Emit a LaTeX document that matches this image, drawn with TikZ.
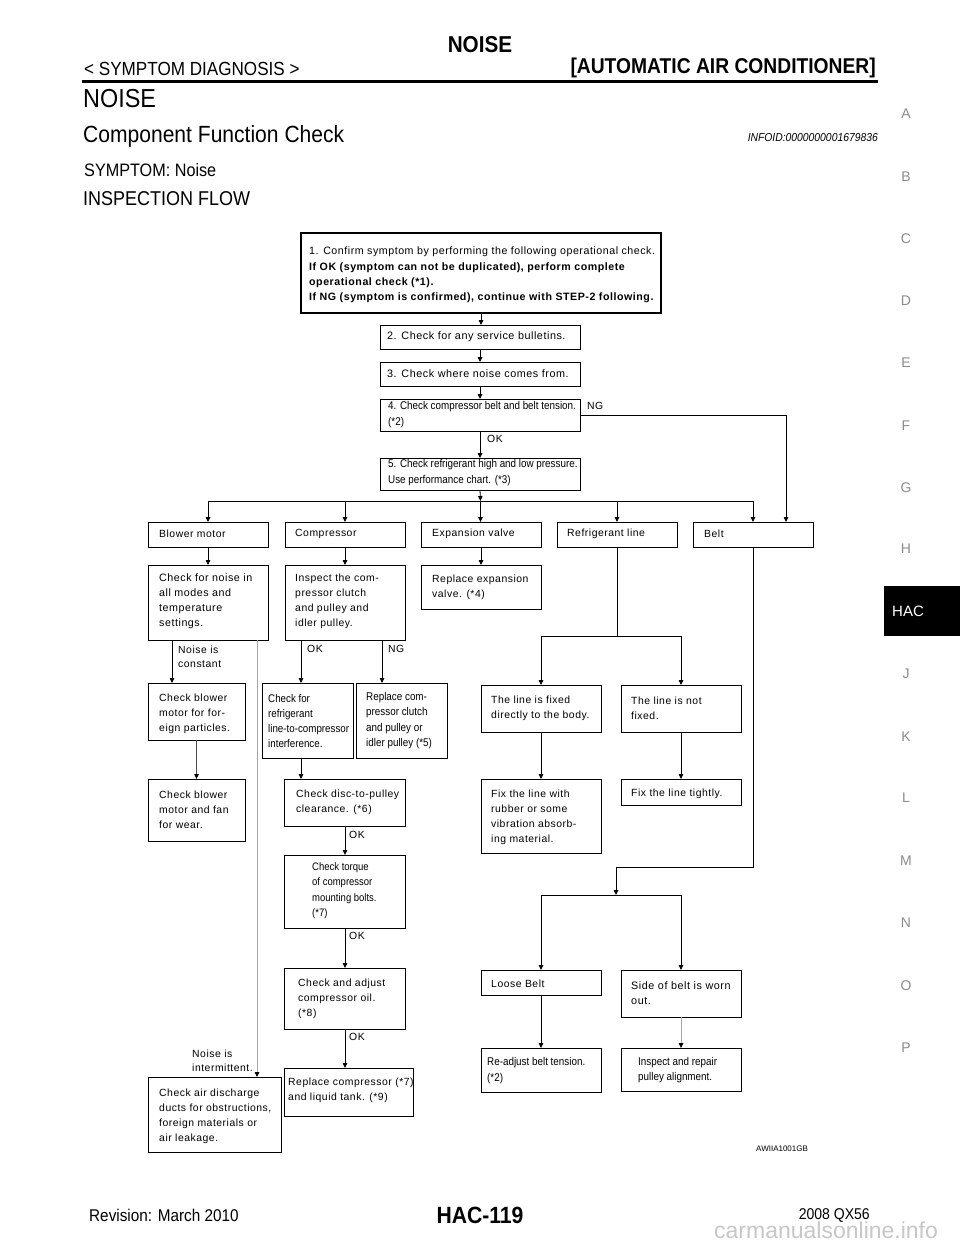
\documentclass[tikz,border=0pt]{standalone}
\usepackage{fontspec}
\setmainfont{Liberation Sans}
\newfontfamily\tfont{Liberation Sans}[LetterSpace=5]
\newfontfamily\nfont{Liberation Sans}[FakeStretch=0.88]
\newfontfamily\hfont{Liberation Sans}[FakeStretch=0.9]
\usetikzlibrary{arrows.meta}
\begin{document}
\begin{tikzpicture}[x=1pt,y=-1pt,
  bx/.style={draw=black, line width=0.9pt, rectangle, inner sep=0pt, outer sep=0pt, anchor=north west},
  tx/.style={anchor=west, align=left, inner sep=0pt, font=\tfont\fontsize{10.4}{15}\selectfont},
  nx/.style={anchor=west, align=left, inner sep=0pt, font=\nfont\fontsize{11.2}{15.5}\selectfont},
  lbl/.style={anchor=west, align=left, inner sep=0pt, font=\tfont\fontsize{10.4}{14.5}\selectfont},
  ar/.style={line width=0.8pt, -{Triangle[length=5pt,width=4.5pt,color=black]}},
  lnk/.style={line width=0.8pt},
  gl/.style={draw=black!35},
  side/.style={inner sep=0pt, text=black!45, font=\fontsize{14}{14}\selectfont},
  hd/.style={inner sep=0pt},
]
\fill[white] (0,0) rectangle (960,1242);
\useasboundingbox (0,0) rectangle (960,1242);

% ---------- header ----------
\node[hd, anchor=base, font=\hfont\bfseries\fontsize{23}{23}\selectfont] (htitle) at (480,52) {NOISE};
\node[hd, anchor=base west, font=\hfont\fontsize{19}{19}\selectfont] (hsym) at (84,75) {< SYMPTOM DIAGNOSIS >};
\node[hd, anchor=base east, font=\hfont\bfseries\fontsize{21.4}{21.4}\selectfont] (hauto) at (876,73) {[AUTOMATIC AIR CONDITIONER]};
\draw[line width=2.5pt] (82,81.5) -- (878,81.5);
\node[hd, anchor=base west, font=\hfont\fontsize{26}{26}\selectfont] (hnoise) at (83,107) {NOISE};
\node[hd, anchor=base west, font=\hfont\fontsize{23.4}{23.4}\selectfont] (hcfc) at (83,142) {Component Function Check};
\node[hd, anchor=base east, font=\hfont\itshape\fontsize{11.5}{11.5}\selectfont] (hinfo) at (878,141) {INFOID:0000000001679836};
\node[hd, anchor=base west, font=\hfont\fontsize{18}{18}\selectfont] (hsn) at (84,176) {SYMPTOM: Noise};
\node[hd, anchor=base west, font=\hfont\fontsize{20}{20}\selectfont] (hif) at (83,205) {INSPECTION FLOW};

% ---------- side index ----------
\node[side] (sA) at (906,114) {A};
\node[side] (sB) at (906,177) {B};
\node[side] (sC) at (906,239) {C};
\node[side] (sD) at (906,301) {D};
\node[side] (sE) at (906,363) {E};
\node[side] (sF) at (906,426) {F};
\node[side] (sG) at (906,488) {G};
\node[side] (sH) at (906,549) {H};
\node[fill=black, inner sep=0pt, minimum width=76pt, minimum height=50pt, anchor=north west] (hac) at (884,586) {};
\node[inner sep=0pt, text=white, font=\fontsize{15}{15}\selectfont] (hact) at (908,611) {HAC};
\node[side] (sJ) at (906,674) {J};
\node[side] (sK) at (906,737) {K};
\node[side] (sL) at (906,798) {L};
\node[side] (sM) at (906,861) {M};
\node[side] (sN) at (906,923) {N};
\node[side] (sO) at (906,986) {O};
\node[side] (sP) at (906,1048) {P};

% ---------- boxes ----------
\node[bx, line width=1.1pt, minimum width=360pt, minimum height=80pt] (b1) at (301,233) {};
\node[bx, minimum width=200pt, minimum height=24pt] (b2) at (380,325) {};
\node[bx, minimum width=200pt, minimum height=24pt] (b3) at (380,362) {};
\node[bx, minimum width=200pt, minimum height=32pt] (b4) at (380,399) {};
\node[bx, minimum width=200pt, minimum height=32pt] (b5) at (380,458) {};
\node[bx, minimum width=120pt, minimum height=25pt] (bl) at (148,522) {};
\node[bx, minimum width=120pt, minimum height=25pt] (cp) at (285,522) {};
\node[bx, minimum width=120pt, minimum height=25pt] (ev) at (421,522) {};
\node[bx, minimum width=120pt, minimum height=25pt] (rl) at (557,522) {};
\node[bx, minimum width=120pt, minimum height=25pt] (bt) at (693,522) {};
\node[bx, minimum width=120pt, minimum height=75pt] (cn) at (148,565) {};
\node[bx, minimum width=120pt, minimum height=75pt] (ic) at (285,565) {};
\node[bx, minimum width=120pt, minimum height=44pt] (re) at (421,565) {};
\node[bx, minimum width=97pt, minimum height=57pt] (cb) at (148,683) {};
\node[bx, minimum width=97pt, minimum height=62pt] (cf) at (148,779) {};
\node[bx, minimum width=91pt, minimum height=75pt] (cr) at (262,683) {};
\node[bx, minimum width=91pt, minimum height=75pt] (rc) at (356,683) {};
\node[bx, minimum width=121pt, minimum height=47pt] (cd) at (284,779) {};
\node[bx, minimum width=121pt, minimum height=73pt] (ct) at (284,855) {};
\node[bx, minimum width=121pt, minimum height=61pt] (ca) at (284,968) {};
\node[bx, minimum width=129pt, minimum height=48pt] (rp) at (284,1068) {};
\node[bx, minimum width=133pt, minimum height=75pt] (ad) at (148,1077) {};
\node[bx, minimum width=120pt, minimum height=47pt] (lf) at (481,685) {};
\node[bx, minimum width=120pt, minimum height=47pt] (lnf) at (621,685) {};
\node[bx, minimum width=120pt, minimum height=74pt] (fw) at (481,779) {};
\node[bx, minimum width=120pt, minimum height=26pt] (ft) at (621,779) {};
\node[bx, minimum width=120pt, minimum height=25pt] (lsb) at (481,970) {};
\node[bx, minimum width=120pt, minimum height=47pt] (sb) at (621,970) {};
\node[bx, minimum width=120pt, minimum height=44pt] (ra) at (481,1048) {};
\node[bx, minimum width=120pt, minimum height=43pt] (ip) at (621,1048) {};

% ---------- box texts ----------
\node[tx, font=\tfont\fontsize{10.65}{15.3}\selectfont] (t1) at (309,275) {1. Confirm symptom by performing the following operational check.\\
\textbf{If OK (symptom can not be duplicated), perform complete}\\
\textbf{operational check (*1).}\\
\textbf{If NG (symptom is confirmed), continue with STEP-2 following.}};
\node[tx, font=\tfont\fontsize{10.8}{15}\selectfont] (t2) at (387,337) {2. Check for any service bulletins.};
\node[tx, font=\tfont\fontsize{10.8}{15}\selectfont] (t3) at (387,374) {3. Check where noise comes from.};
\node[nx, font=\nfont\fontsize{11.2}{16}\selectfont] (t4) at (388,415) {4. Check compressor belt and belt tension.\\(*2)};
\node[nx, font=\nfont\fontsize{11.2}{16}\selectfont] (t5) at (388,473) {5. Check refrigerant high and low pressure.\\Use performance chart. (*3)};
\node[tx] (tbl) at (159,534) {Blower motor};
\node[tx] (tcp) at (295,534) {Compressor};
\node[tx] (tev) at (432,534) {Expansion valve};
\node[tx] (trl) at (567,534) {Refrigerant line};
\node[tx] (tbt) at (704,534) {Belt};
\node[tx, font=\tfont\fontsize{10.7}{15}\selectfont] (tcn) at (159,601) {Check for noise in\\all modes and\\temperature\\settings.};
\node[tx] (tic) at (295,601) {Inspect the com-\\pressor clutch\\and pulley and\\idler pulley.};
\node[tx] (tre) at (432,587) {Replace expansion\\valve. (*4)};
\node[tx] (tcb) at (159,713.5) {Check blower\\motor for for-\\eign particles.};
\node[tx] (tcf) at (159,809.5) {Check blower\\motor and fan\\for wear.};
\node[nx, font=\nfont\fontsize{11.1}{15}\selectfont] (tcr) at (268,721) {Check for\\refrigerant\\line-to-compressor\\interference.};
\node[nx] (trc) at (366,720.5) {Replace com-\\pressor clutch\\and pulley or\\idler pulley (*5)};
\node[tx] (tcd) at (296,802) {Check disc-to-pulley\\clearance. (*6)};
\node[nx, font=\nfont\fontsize{10.8}{15.5}\selectfont] (tct) at (312,890.5) {Check torque\\of compressor\\mounting bolts.\\(*7)};
\node[tx] (tca) at (298,998.5) {Check and adjust\\compressor oil.\\(*8)};
\node[tx] (trp) at (288,1090) {Replace compressor (*7)\\and liquid tank. (*9)};
\node[tx] (tad) at (159,1116) {Check air discharge\\ducts for obstructions,\\foreign materials or\\air leakage.};
\node[tx] (tlf) at (491,708) {The line is fixed\\directly to the body.};
\node[tx] (tlnf) at (631,708) {The line is not\\fixed.};
\node[tx] (tfw) at (491,817) {Fix the line with\\rubber or some\\vibration absorb-\\ing material.};
\node[tx] (tft) at (631,793.5) {Fix the line tightly.};
\node[tx] (tlsb) at (491,983.5) {Loose Belt};
\node[tx, font=\tfont\fontsize{10.8}{15}\selectfont] (tsb) at (631,993) {Side of belt is worn\\out.};
\node[nx] (tra) at (487,1070.5) {Re-adjust belt tension.\\(*2)};
\node[nx] (tip) at (638,1070) {Inspect and repair\\pulley alignment.};
\node[hd, anchor=west, font=\fontsize{8}{8}\selectfont] (taw) at (756,1149) {AWIIA1001GB};

% ---------- labels ----------
\node[lbl] (lng4) at (587,406) {NG};
\node[lbl] (lok4) at (487,439) {OK};
\node[lbl] (lnc) at (178,657) {Noise is\\constant};
\node[lbl] (lokI) at (307,649) {OK};
\node[lbl] (lngI) at (388,649) {NG};
\node[lbl] (lok1) at (349,835) {OK};
\node[lbl] (lok2) at (349,936) {OK};
\node[lbl] (lok3) at (349,1037) {OK};
\node[lbl] (lni) at (192,1061) {Noise is\\intermittent.};

% ---------- connectors ----------
\draw[ar] (b1.south) -- (b1.south |- b2.north);
\draw[ar] (b2.south) -- (b2.south |- b3.north);
\draw[ar] (b3.south) -- (b3.south |- b4.north);
\draw[ar] (b4.south) -- (b4.south |- b5.north);
\coordinate (j5) at (480.5,501);
\draw[ar] (b5.south) -- (j5);
\draw[ar] (j5) -| (bl.north);
\draw[ar] (j5) -| (cp.north);
\draw[ar] (j5) -- (j5 |- ev.north);
\draw[ar] (j5) -| (rl.north);
\draw[ar] (j5) -| (bt.north);
\coordinate (ngc) at (786,0);
\draw[ar] (b4.east) -| (ngc |- bt.north);

\draw[ar] (bl.south) -- (cn.north);
\draw[ar] (cp.south) -- (ic.north);
\draw[ar] (ev.south) -- (re.north);

\coordinate (xa) at (172,0);
\coordinate (xb) at (257,0);
\coordinate (xc) at (301,0);
\coordinate (xd) at (382,0);
\coordinate (xe) at (345,0);
\draw[ar] (cn.south -| xa) -- (cb.north -| xa);
\draw[ar, gl] (cn.south -| xb) -- (ad.north -| xb);
\draw[ar] (ic.south -| xc) -- (cr.north -| xc);
\draw[ar] (ic.south -| xd) -- (rc.north -| xd);
\draw[ar, draw=black!70] (cb.south) -- (cf.north);
\draw[ar] (cr.south -| xc) -- (cd.north -| xc);
\draw[ar] (cd.south -| xe) -- (ct.north -| xe);
\draw[ar] (ct.south -| xe) -- (ca.north -| xe);
\draw[ar] (ca.south -| xe) -- (rp.north -| xe);

\coordinate (jr) at (617,636);
\draw[lnk] (rl.south) -- (jr);
\draw[ar] (jr) -| (lf.north);
\draw[ar] (jr) -| (lnf.north);
\draw[ar] (lf.south) -- (fw.north);
\draw[ar] (lnf.south) -- (ft.north);

\coordinate (bk) at (616,867);
\coordinate (jb) at (616,895);
\draw[ar] (bt.south) |- (bk) -- (jb);
\draw[ar] (jb) -| (lsb.north);
\draw[ar] (jb) -| (sb.north);
\draw[ar] (lsb.south) -- (ra.north);
\draw[ar, gl] (sb.south) -- (ip.north);

% ---------- footer ----------
\node[hd, anchor=base west, text=black!22, font=\fontsize{23}{23}\selectfont] (wm) at (714,1238.5) {carmanualsonline.info};
\node[hd, anchor=base west, font=\hfont\fontsize{17}{17}\selectfont] (frev) at (89,1221) {Revision: March 2010};
\node[hd, anchor=base, font=\hfont\bfseries\fontsize{23.5}{23.5}\selectfont] (fpage) at (480,1223) {HAC-119};
\node[hd, anchor=base east, font=\hfont\fontsize{15.6}{15.6}\selectfont] (fmod) at (870,1219) {2008 QX56};
\end{tikzpicture}
\end{document}
